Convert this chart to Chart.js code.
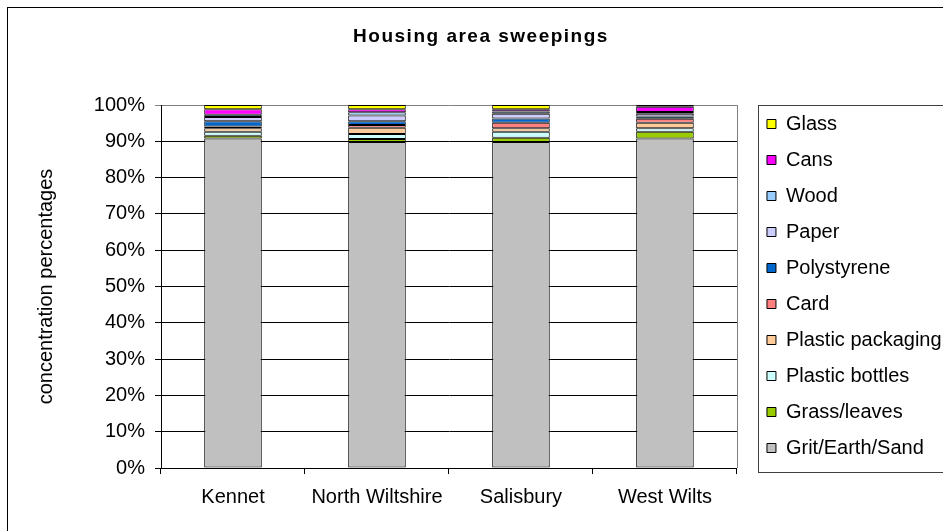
<!DOCTYPE html>
<html>
<head>
<meta charset="utf-8">
<script src="https://cdn.jsdelivr.net/npm/chart.js@4/dist/chart.umd.min.js"></script>
<style>
    html, body { margin: 0; padding: 0; background: #fff; }
    #wrap { width: 943px; height: 531px; }
</style>
</head>
<body>
<div id="wrap">
    <canvas id="sweepChart" width="943" height="531"></canvas>
</div>
<script>
const districts = ["Kennet", "North Wiltshire", "Salisbury", "West Wilts"];

// percentage of each material, per district
const gritEarthSand    = [90.8, 89.8, 89.8, 90.8];
const grassLeaves      = [0.7, 0.8, 1.2, 1.8];
const plasticBottles   = [1.1, 1.4, 1.6, 1.0];
const plasticPackaging = [1.0, 1.7, 1.0, 1.5];
const card             = [0.5, 0.8, 1.5, 1.1];
const polystyrene      = [1.4, 1.0, 1.2, 0.6];
const paper            = [1.2, 1.6, 1.3, 0.8];
const wood             = [0.6, 0.9, 0.6, 0.5];
const cans             = [1.5, 0.8, 0.6, 1.4];
const glass            = [1.2, 1.2, 1.2, 0.5];

const yTicks = [0, 10, 20, 30, 40, 50, 60, 70, 80, 90, 100];

const FONT = "'Liberation Sans', Arial, sans-serif";

function series(label, data, colour) {
    return {
        label: label,
        data: data,
        backgroundColor: colour,
        borderColor: "#000",
        borderWidth: 1,
        borderSkipped: false,
        barPercentage: 0.4,
        categoryPercentage: 1.0
    };
}

// title, outer frame, plot frame and legend box
const decorations = {
    id: "decorations",

    afterLayout(chart) {
        const lg = chart.legend;
        const h = lg.bottom - lg.top;
        lg.left += 14;
        lg.right += 14;
        lg.top = chart.chartArea.top - 7;
        lg.bottom = lg.top + h;
    },

    beforeDatasetsDraw(chart) {
        const ctx = chart.ctx;
        const a = chart.chartArea;
        ctx.save();
        ctx.strokeStyle = "#808080";
        ctx.lineWidth = 1;
        ctx.beginPath();
        ctx.moveTo(Math.round(a.right) + 0.5, a.top);
        ctx.lineTo(Math.round(a.right) + 0.5, a.bottom);
        ctx.stroke();
        ctx.restore();
    },

    afterDraw(chart) {
        const ctx = chart.ctx;
        const a = chart.chartArea;
        const lg = chart.legend;
        ctx.save();

        ctx.strokeStyle = "#000";
        ctx.lineWidth = 1;
        ctx.strokeRect(7.5, 7.5, 1000, 1000);

        ctx.strokeStyle = "#404040";
        ctx.strokeRect(Math.round(lg.left) + 7.5, Math.round(a.top) + 0.5,
                       300, Math.round(a.bottom - a.top) + 4);

        ctx.fillStyle = "#000";
        ctx.font = "bold 19px " + FONT;
        ctx.letterSpacing = "1.5px";
        ctx.textAlign = "center";
        ctx.textBaseline = "middle";
        ctx.fillText("Housing area sweepings", 481, 37);
        ctx.restore();
    }
};

new Chart(document.getElementById("sweepChart"), {
    type: "bar",

    data: {
        labels: districts,
        datasets: [
            series("Grit/Earth/Sand", gritEarthSand, "#C0C0C0"),
            series("Grass/leaves", grassLeaves, "#99CC00"),
            series("Plastic bottles", plasticBottles, "#CCFFFF"),
            series("Plastic packaging", plasticPackaging, "#FFCC99"),
            series("Card", card, "#FF8080"),
            series("Polystyrene", polystyrene, "#0066CC"),
            series("Paper", paper, "#CCCCFF"),
            series("Wood", wood, "#99CCFF"),
            series("Cans", cans, "#FF00FF"),
            series("Glass", glass, "#FFFF00")
        ]
    },

    options: {
        responsive: false,
        animation: false,

        layout: {
            padding: { top: 105, right: 5.4, bottom: 0, left: 0 }
        },

        plugins: {
            title: { display: false },
            tooltip: { enabled: false },
            legend: {
                display: true,
                position: "right",
                align: "start",
                reverse: true,
                labels: {
                    color: "#000",
                    font: { family: FONT, size: 20 },
                    boxWidth: 9,
                    boxHeight: 9,
                    padding: 16
                }
            }
        },

        scales: {
            x: {
                stacked: true,
                afterFit(scale) { scale.height = 63; },
                border: { color: "#000", width: 1 },
                grid: {
                    offset: true,
                    drawOnChartArea: false,
                    drawTicks: true,
                    tickLength: 6,
                    color: "#000"
                },
                ticks: {
                    color: "#000",
                    padding: 11,
                    maxRotation: 0,
                    font: { family: FONT, size: 20 }
                }
            },

            y: {
                stacked: true,
                min: 0,
                max: 100,
                afterFit(scale) { scale.width = 161; },
                afterBuildTicks(scale) {
                    scale.ticks = yTicks.map(v => ({ value: v }));
                },
                border: { color: "#000", width: 1 },
                grid: {
                    tickLength: 6,
                    color: c => (c.tick && c.tick.value === 100) ? "#808080" : "#000"
                },
                ticks: {
                    color: "#000",
                    padding: 10,
                    font: { family: FONT, size: 20 },
                    callback: v => v + "%"
                },
                title: {
                    display: true,
                    text: "concentration percentages",
                    color: "#000",
                    padding: { top: 34, bottom: 0 },
                    font: { family: FONT, size: 20 }
                }
            }
        }
    },

    plugins: [decorations]
});
</script>
</body>
</html>
